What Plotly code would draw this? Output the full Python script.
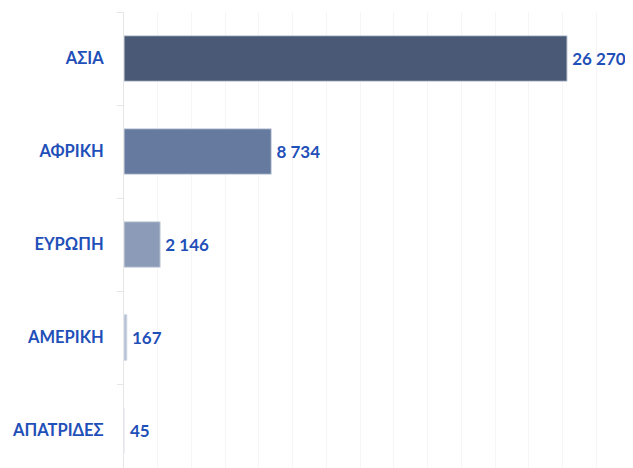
import plotly.graph_objects as go

categories = ["ΑΣΙΑ", "ΑΦΡΙΚΗ", "ΕΥΡΩΠΗ", "ΑΜΕΡΙΚΗ", "ΑΠΑΤΡΙΔΕΣ"]
values = [26270, 8734, 2146, 167, 45]
value_labels = ["26 270", "8 734", "2 146", "167", "45"]
bar_colors = ["#4a5a76", "#667a9f", "#8c9bb7", "#b3bfd5", "#e3e8f0"]
bar_edge_colors = ["#d3d9e3", "#d3d9e3", "#d3d9e3", "#d3d9e3", "rgba(0,0,0,0)"]

BLUE = "#1f4fb8"
FONT = "Lato, 'Noto Sans', sans-serif"

fig = go.Figure(go.Bar(
    x=values,
    y=categories,
    orientation="h",
    width=0.49,
    marker=dict(color=bar_colors, line=dict(color=bar_edge_colors, width=1)),
    text=["\u2009" + t for t in value_labels],
    textposition="outside",
    cliponaxis=False,
    textfont=dict(family=FONT, size=17, color=BLUE, weight="bold"),
    hoverinfo="skip",
))

fig.update_layout(
    width=625,
    height=460,
    margin=dict(l=116, r=3, t=4, b=0),
    plot_bgcolor="white",
    paper_bgcolor="white",
    showlegend=False,
    xaxis=dict(
        range=[0, 30000],
        dtick=2000,
        showticklabels=False,
        showgrid=True,
        gridcolor="#f5f5f5",
        gridwidth=1,
        zeroline=False,
        fixedrange=True,
    ),
    yaxis=dict(
        categoryorder="array",
        categoryarray=categories,
        range=[4.403, -0.5],
        showline=True,
        linecolor="#e6e6e6",
        linewidth=1,
        ticks="outside",
        tickson="boundaries",
        ticklen=6,
        tickcolor="#e6e6e6",
        ticklabelstandoff=16,
        showgrid=False,
        tickfont=dict(family=FONT, size=16.5, color=BLUE, weight="bold"),
        fixedrange=True,
    ),
)

fig.write_html("out.html")
